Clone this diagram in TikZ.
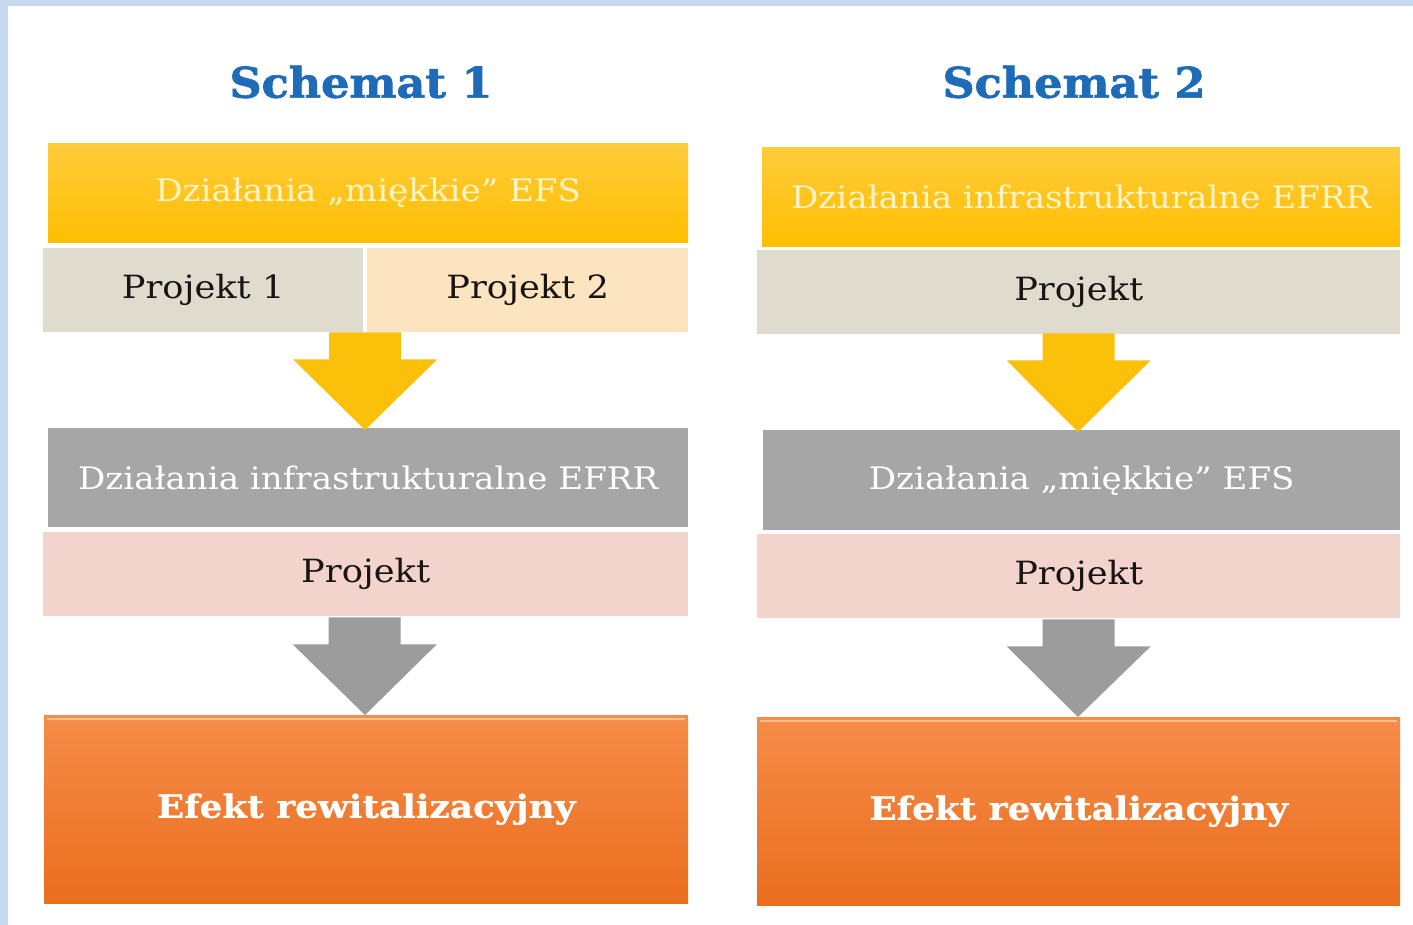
\documentclass[tikz,border=0pt]{standalone}
\usepackage{fontspec}
\setmainfont{DejaVu Serif}
\newfontfamily\slab{DejaVu Serif}[FakeStretch=1.1]
\newfontfamily\slabbold{DejaVu Serif Bold}[FakeStretch=1.12, FakeBold=0.8]
\newfontfamily\headfont{DejaVu Serif Bold}[FakeStretch=1.06, FakeBold=1.6]
\usetikzlibrary{calc}
\definecolor{frameblue}{RGB}{197,217,241}
\definecolor{headblue}{RGB}{30,108,184}
\definecolor{ytop}{RGB}{255,204,60}
\definecolor{ybot}{RGB}{255,190,0}
\definecolor{ytext}{RGB}{255,244,200}
\definecolor{beige}{RGB}{223,220,206}
\definecolor{peach}{RGB}{253,228,193}
\definecolor{greybox}{RGB}{166,166,166}
\definecolor{pinkbox}{RGB}{242,212,205}
\definecolor{yarrow}{RGB}{250,192,10}
\definecolor{garrow}{RGB}{156,156,156}
\definecolor{otop}{RGB}{246,140,72}
\definecolor{obot}{RGB}{234,110,30}
\definecolor{ohl}{RGB}{251,190,140}
\definecolor{darktext}{RGB}{25,20,20}
\tikzset{
  box/.style={rectangle, draw=none, inner sep=0pt, anchor=north west},
  titlebox/.style={box, font=\slab\fontsize{31}{34}\selectfont},
  projbox/.style={box, font=\slab\fontsize{32}{36}\selectfont, text=darktext},
  yellowbox/.style={titlebox, top color=ytop, bottom color=ybot, text=ytext},
  greyboxst/.style={titlebox, fill=greybox, text=white},
  effbox/.style={box, top color=otop, bottom color=obot, text=white, font=\slabbold\fontsize{32}{36}\selectfont},
  heading/.style={font=\headfont\fontsize{42}{46}\selectfont, text=headblue},
}
\newcommand{\blockarrow}[3]{%
  \fill[#3] ($(#1)+(-36,0)$) -- ($(#1)+(36,0)$) -- ($(#1)+(36,27)$) -- ($(#1)+(72,27)$)
    -- (#2) -- ($(#1)+(-72,27)$) -- ($(#1)+(-36,27)$) -- cycle;}
\begin{document}
\begin{tikzpicture}[x=1pt,y=-1pt]
\useasboundingbox (0,0) rectangle (1413,925);
\fill[frameblue] (0,0) rectangle (1413,925);
\fill[white] (8,6) rectangle (1413,925);

% ---------- Schemat 1 ----------
\node[heading] (h1) at (361,82) {Schemat 1};
\node[yellowbox, minimum width=640pt, minimum height=99pt] (y1) at (48,143) {Działania „miękkie” EFS};
\node[projbox, fill=beige, minimum width=320pt, minimum height=84pt] (p11) at (43,248) {Projekt 1};
\node[projbox, fill=peach, minimum width=321pt, minimum height=84pt] (p12) at (367,248) {Projekt 2};
\node[greyboxst, minimum width=640pt, minimum height=99pt] (g1) at (48,428) {Działania infrastrukturalne EFRR};
\node[projbox, fill=pinkbox, minimum width=645pt, minimum height=84pt] (k1) at (43,532) {Projekt};
\node[effbox, minimum width=644pt, minimum height=188pt] (e1) at (44,715) {Efekt rewitalizacyjny};
\draw[ohl, line width=2.5pt] ($(e1.north west)+(3,4)$) -- ($(e1.north east)+(-3,4)$);

\coordinate (a1s) at ($(p11.south east)!0.5!(p12.south west)$);
\coordinate (a1t) at ($(g1.north west)+(317,2)$);
\blockarrow{a1s}{a1t}{yarrow}
\coordinate (b1s) at ($(k1.south)+(-1,1)$);
\coordinate (b1t) at ($(e1.north west)+(321,0)$);
\blockarrow{b1s}{b1t}{garrow}

% ---------- Schemat 2 ----------
\node[heading] (h2) at (1074,82) {Schemat 2};
\node[yellowbox, minimum width=638pt, minimum height=99pt] (y2) at (762,147) {Działania infrastrukturalne EFRR};
\node[projbox, fill=beige, minimum width=643pt, minimum height=84pt] (p2) at (757,250) {Projekt};
\node[greyboxst, minimum width=637pt, minimum height=100pt] (g2) at (763,430) {Działania „miękkie” EFS};
\node[projbox, fill=pinkbox, minimum width=643pt, minimum height=84pt] (k2) at (757,534) {Projekt};
\node[effbox, minimum width=643pt, minimum height=188pt] (e2) at (757,717) {Efekt rewitalizacyjny};
\draw[ohl, line width=2.5pt] ($(e2.north west)+(3,4)$) -- ($(e2.north east)+(-3,4)$);

\coordinate (a2s) at ($(p2.south)+(0,-1)$);
\coordinate (a2t) at ($(g2.north west)+(315,2)$);
\blockarrow{a2s}{a2t}{yarrow}
\coordinate (b2s) at ($(k2.south)+(0,1)$);
\coordinate (b2t) at ($(e2.north west)+(321,0)$);
\blockarrow{b2s}{b2t}{garrow}
\end{tikzpicture}
\end{document}
